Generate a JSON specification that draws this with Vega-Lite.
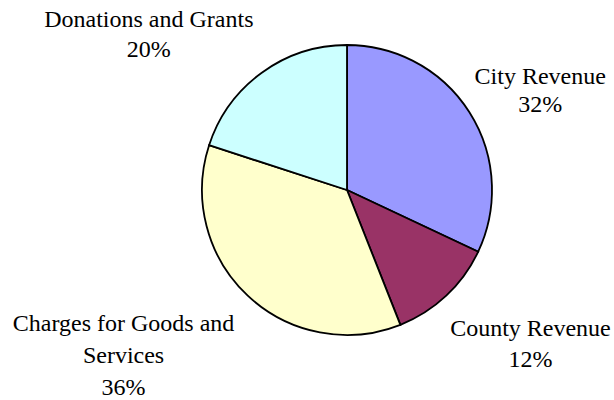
{
  "$schema": "https://vega.github.io/schema/vega-lite/v6.json",
  "width": 534,
  "height": 380,
  "autosize": "none",
  "padding": {"left": 80, "top": 0, "right": 0, "bottom": 20},
  "background": "white",
  "config": {"view": {"stroke": null}},
  "data": {
    "values": [
      {"cat": "City Revenue", "label": "City Revenue\n32%", "value": 32, "idx": 1},
      {"cat": "County Revenue", "label": "County Revenue\n12%", "value": 12, "idx": 2},
      {"cat": "Charges for Goods and Services", "label": "Charges for Goods and\nServices\n36%", "value": 36, "idx": 3},
      {"cat": "Donations and Grants", "label": "Donations and Grants\n20%", "value": 20, "idx": 4}
    ]
  },
  "encoding": {
    "theta": {"field": "value", "type": "quantitative", "stack": true},
    "order": {"field": "idx", "type": "quantitative"}
  },
  "layer": [
    {
      "mark": {"type": "arc", "outerRadius": 145, "stroke": "black", "strokeWidth": 1.8},
      "encoding": {
        "color": {
          "field": "cat",
          "type": "nominal",
          "scale": {
            "domain": ["City Revenue", "County Revenue", "Charges for Goods and Services", "Donations and Grants"],
            "range": ["#9999FF", "#993366", "#FFFFCC", "#CCFFFF"]
          },
          "legend": null
        }
      }
    },
    {
      "mark": {"type": "text", "radius": 230, "dx": -1, "dy": 10, "font": "Liberation Serif", "fontSize": 24, "lineHeight": 28, "lineBreak": "\n", "align": "center", "baseline": "middle", "color": "black"},
      "encoding": {"text": {"condition": {"test": "datum.cat === 'City Revenue'", "field": "label"}, "value": ""}}
    },
    {
      "mark": {"type": "text", "radius": 230, "dx": 26, "dy": -29, "font": "Liberation Serif", "fontSize": 24, "lineHeight": 31, "lineBreak": "\n", "align": "center", "baseline": "middle", "color": "black"},
      "encoding": {"text": {"condition": {"test": "datum.cat === 'County Revenue'", "field": "label"}, "value": ""}}
    },
    {
      "mark": {"type": "text", "radius": 230, "dx": -66, "dy": -34, "font": "Liberation Serif", "fontSize": 24, "lineHeight": 32, "lineBreak": "\n", "align": "center", "baseline": "middle", "color": "black"},
      "encoding": {"text": {"condition": {"test": "datum.cat === 'Charges for Goods and Services'", "field": "label"}, "value": ""}}
    },
    {
      "mark": {"type": "text", "radius": 230, "dx": -63, "dy": 16, "font": "Liberation Serif", "fontSize": 24, "lineHeight": 30, "lineBreak": "\n", "align": "center", "baseline": "middle", "color": "black"},
      "encoding": {"text": {"condition": {"test": "datum.cat === 'Donations and Grants'", "field": "label"}, "value": ""}}
    }
  ]
}
